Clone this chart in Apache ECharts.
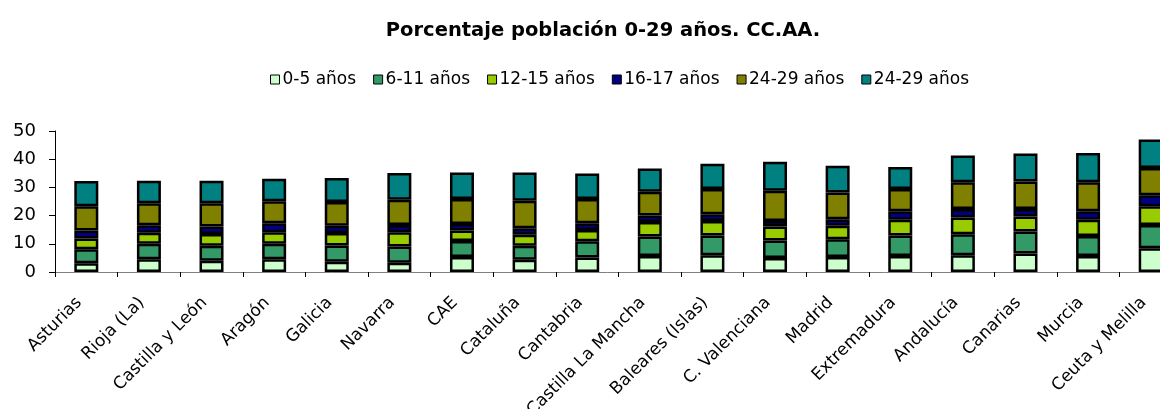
<!DOCTYPE html>
<html lang="es">
<head>
    <meta charset="UTF-8">
    <title>Porcentaje población 0-29 años. CC.AA.</title>
    <script src="https://cdn.jsdelivr.net/npm/echarts@6/dist/echarts.min.js"></script>
    <style>
        html, body { margin: 0; padding: 0; background: #fff; }
        #container { width: 1160px; height: 409px; }
    </style>
</head>
<body>
<div id="container"></div>
<script type="text/javascript">
    // datos
    var regiones = ['Asturias', 'Rioja (La)', 'Castilla y León', 'Aragón', 'Galicia', 'Navarra', 'CAE',
        'Cataluña', 'Cantabria', 'Castilla La Mancha', 'Baleares (Islas)', 'C. Valenciana', 'Madrid',
        'Extremadura', 'Andalucía', 'Canarias', 'Murcia', 'Ceuta y Melilla'];
    var edad0_5   = [3.1, 4.5, 4.0, 4.5, 3.6, 3.3, 5.3, 4.3, 5.1, 5.7, 5.9, 5.0, 5.3, 5.7, 5.9, 6.6, 5.7, 8.4];
    var edad6_11  = [5.0, 5.5, 5.3, 5.5, 5.8, 5.7, 5.7, 5.0, 5.8, 6.9, 7.0, 6.2, 6.3, 7.2, 7.5, 7.8, 7.1, 8.3];
    var edad12_15 = [3.8, 3.9, 4.2, 4.1, 4.4, 5.1, 3.7, 3.9, 4.0, 5.1, 5.2, 4.9, 4.8, 5.6, 5.9, 5.3, 5.7, 6.6];
    var edad16_17 = [2.8, 2.7, 2.6, 3.2, 2.6, 2.6, 2.3, 2.3, 2.4, 2.3, 2.4, 2.0, 2.3, 3.0, 3.0, 2.6, 3.0, 3.9];
    var edad24_29a = [8.6, 7.8, 8.3, 7.8, 8.4, 8.9, 8.9, 9.8, 8.6, 8.5, 8.9, 10.7, 9.5, 7.9, 9.5, 9.8, 10.3, 9.7];
    var edad24_29b = [9.0, 8.0, 8.0, 8.0, 8.5, 9.5, 9.4, 10.0, 9.0, 8.2, 9.0, 10.3, 9.5, 7.8, 9.5, 9.9, 10.4, 10.1];
    var nombres = ['0-5 años', '6-11 años', '12-15 años', '16-17 años', '24-29 años', '24-29 años '];
    var colores = ['#CCFFCC', '#339966', '#99CC00', '#000080', '#808000', '#008080'];
    var valoresY = [0, 10, 20, 30, 40, 50];

    var fuente = '"DejaVu Sans", sans-serif';
    var datos = [edad0_5, edad6_11, edad12_15, edad16_17, edad24_29a, edad24_29b];

    var series = datos.map(function (d, i) {
        return {
            name: nombres[i],
            type: 'bar',
            stack: 'total',
            barWidth: 24,
            data: d,
            itemStyle: { color: colores[i], borderColor: '#000', borderWidth: 2.5 }
        };
    });

    var myChart = echarts.init(document.getElementById('container'));
    var option = {
        animation: false,
        title: {
            text: 'Porcentaje población 0-29 años. CC.AA.',
            left: 598, top: 16, textAlign: 'center',
            textStyle: { fontFamily: fuente, fontSize: 19.5, fontWeight: 'bold', color: '#000' }
        },
        legend: {
            data: nombres,
            top: 66, left: 265,
            itemWidth: 9, itemHeight: 9, itemGap: 17,
            icon: 'rect',
            itemStyle: { borderColor: '#000', borderWidth: 1 },
            textStyle: { fontFamily: fuente, fontSize: 17, color: '#000', padding: [0, 0, 0, -2] }
        },
        grid: { left: 55, top: 131, width: 1127, height: 141, outerBoundsMode: 'none', containLabel: false },
        xAxis: {
            type: 'category',
            data: regiones,
            axisLine: { lineStyle: { color: '#808080', width: 1 } },
            axisTick: { show: true, length: 5, lineStyle: { color: '#000' } },
            axisLabel: {
                interval: 0, rotate: 45, margin: 21, padding: [0, 10, 0, 0],
                fontFamily: fuente, fontSize: 17, color: '#000'
            }
        },
        yAxis: {
            type: 'value',
            min: valoresY[0], max: valoresY[valoresY.length - 1], interval: 10,
            axisLine: { show: true, lineStyle: { color: '#000', width: 1 } },
            axisTick: { show: true, length: 6, lineStyle: { color: '#000' } },
            splitLine: { show: false },
            axisLabel: { margin: 19, fontFamily: fuente, fontSize: 18, color: '#000' }
        },
        series: series
    };
    myChart.setOption(option);
</script>
</body>
</html>
